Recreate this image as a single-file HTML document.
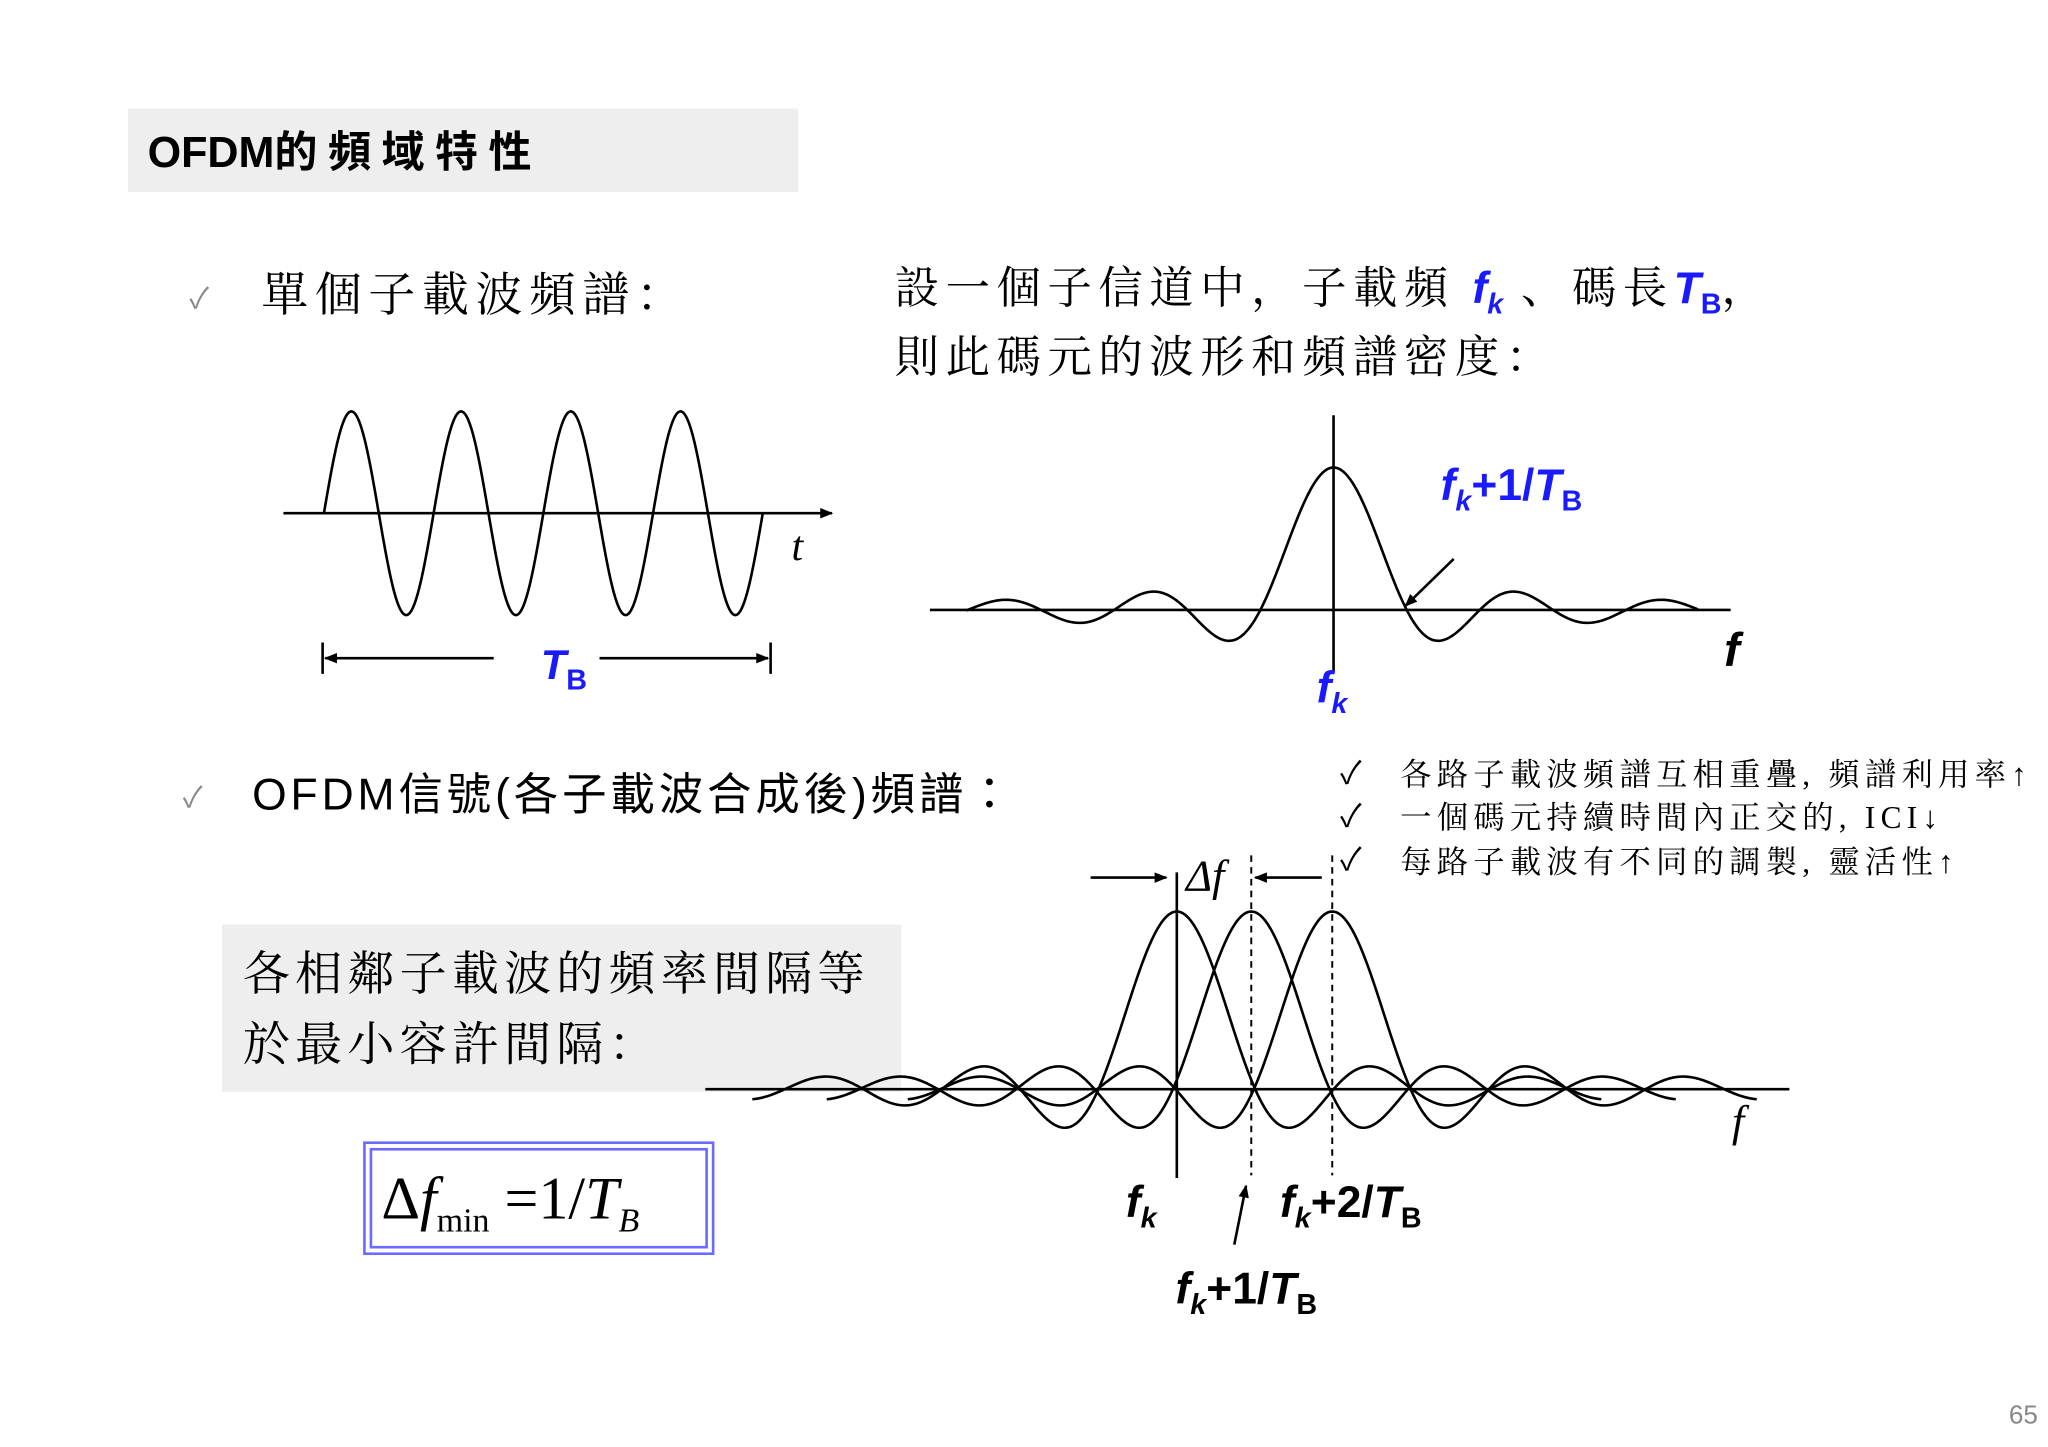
<!DOCTYPE html>
<html><head><meta charset="utf-8">
<style>
html,body{margin:0;padding:0;background:#fff;}
svg{display:block;}
.cj{font-family:"Liberation Serif","Noto Serif CJK SC","Noto Sans CJK TC",serif;}
.sa{font-family:"Liberation Sans","Noto Sans CJK TC",sans-serif;}
.bl{fill:#1a1aff;font-weight:bold;font-style:italic;font-family:"Liberation Sans",sans-serif;letter-spacing:0;}
</style></head>
<body>
<svg id="s" width="2048" height="1447" viewBox="0 0 1568 1108" preserveAspectRatio="none" xmlns="http://www.w3.org/2000/svg">
<defs>
<marker id="ar" markerWidth="10" markerHeight="8" refX="9" refY="4" orient="auto" markerUnits="userSpaceOnUse"><path d="M0,0 L10,4 L0,8 z" fill="#000"/></marker>
</defs>
<rect x="98" y="83" width="513" height="64" fill="#eeeeee"/>
<text x="113" y="128" class="sa" font-size="33" font-weight="bold">OFDM<tspan letter-spacing="8">的頻域特性</tspan></text>

<text x="145" y="236" font-size="22" fill="#888" class="sa">✓</text>
<text x="200" y="238" class="cj" font-size="36" letter-spacing="5">單個子載波頻譜：</text>

<text x="685" y="232" class="cj" font-size="34" letter-spacing="5">設一個子信道中，子載頻 <tspan class="bl">f<tspan font-size="22" dy="8">k</tspan></tspan><tspan dy="-8"> 、碼長</tspan><tspan class="bl">T<tspan font-size="22" dy="8" font-style="normal">B</tspan></tspan><tspan dy="-8">，</tspan></text>
<text x="685" y="285" class="cj" font-size="34" letter-spacing="5">則此碼元的波形和頻譜密度：</text>

<line x1="217" y1="393" x2="637" y2="393" stroke="#000" stroke-width="2" marker-end="url(#ar)"/>
<path id="sine" fill="none" stroke="#000" stroke-width="2"/>
<text x="606" y="429" font-size="32" font-style="italic" font-family="Liberation Serif,serif">t</text>
<line x1="247" y1="492" x2="247" y2="516" stroke="#000" stroke-width="2"/>
<line x1="590" y1="492" x2="590" y2="516" stroke="#000" stroke-width="2"/>
<line x1="378" y1="504" x2="249" y2="504" stroke="#000" stroke-width="2" marker-end="url(#ar)"/>
<line x1="459" y1="504" x2="588" y2="504" stroke="#000" stroke-width="2" marker-end="url(#ar)"/>
<text x="414" y="520" class="bl" font-size="32">T<tspan font-size="22" dy="8" font-style="normal">B</tspan></text>

<line x1="712" y1="467" x2="1325" y2="467" stroke="#000" stroke-width="2"/>
<line x1="1021" y1="318" x2="1021" y2="515" stroke="#000" stroke-width="2"/>
<path id="sinc1" fill="none" stroke="#000" stroke-width="2"/>
<text x="1103" y="383" class="bl" font-size="34">f<tspan font-size="22" dy="8">k</tspan><tspan dy="-8" font-style="normal">+1/</tspan>T<tspan font-size="22" dy="8" font-style="normal">B</tspan></text>
<line x1="1113" y1="428" x2="1076" y2="464" stroke="#000" stroke-width="2" marker-end="url(#ar)"/>
<text x="1320" y="510" font-size="36" font-weight="bold" font-style="italic" font-family="Liberation Sans,sans-serif">f</text>
<text x="1008" y="538" class="bl" font-size="34">f<tspan font-size="22" dy="8">k</tspan></text>

<text x="140" y="618" font-size="22" fill="#888" class="sa">✓</text>
<text x="193" y="620" class="sa" font-size="34" letter-spacing="3">OFDM信號(各子載波合成後)頻譜：</text>

<text x="1026" y="600" font-size="24" class="sa">✓</text>
<text x="1072" y="601" class="cj" font-size="24" letter-spacing="4">各路子載波頻譜互相重疊, 頻譜利用率↑</text>
<text x="1026" y="633" font-size="24" class="sa">✓</text>
<text x="1072" y="634" class="cj" font-size="24" letter-spacing="4">一個碼元持續時間內正交的, ICI↓</text>
<text x="1026" y="666" font-size="24" class="sa">✓</text>
<text x="1072" y="668" class="cj" font-size="24" letter-spacing="4">每路子載波有不同的調製, 靈活性↑</text>

<rect x="170" y="708" width="520" height="128" fill="#eeeeee"/>
<text x="186" y="758" class="cj" font-size="36" letter-spacing="4">各相鄰子載波的頻率間隔等</text>
<text x="186" y="812" class="cj" font-size="36" letter-spacing="4">於最小容許間隔：</text>

<rect x="279" y="875" width="267" height="85" fill="none" stroke="#6b6bff" stroke-width="2"/>
<rect x="284" y="880" width="257" height="75" fill="none" stroke="#6b6bff" stroke-width="2"/>
<text x="292" y="933" font-family="Liberation Serif,serif" font-size="46">Δ<tspan font-style="italic">f</tspan><tspan font-size="26" dy="10">min</tspan><tspan dy="-10"> =1/</tspan><tspan font-style="italic">T</tspan><tspan font-size="26" font-style="italic" dy="10">B</tspan></text>

<line x1="540" y1="834" x2="1370" y2="834" stroke="#000" stroke-width="2"/>
<path id="sa" fill="none" stroke="#000" stroke-width="2"/>
<path id="sb" fill="none" stroke="#000" stroke-width="2"/>
<path id="sc" fill="none" stroke="#000" stroke-width="2"/>
<line x1="901" y1="668" x2="901" y2="902" stroke="#000" stroke-width="2"/>
<line x1="958" y1="655" x2="958" y2="900" stroke="#000" stroke-width="1.5" stroke-dasharray="5,4"/>
<line x1="1020" y1="655" x2="1020" y2="900" stroke="#000" stroke-width="1.5" stroke-dasharray="5,4"/>
<line x1="835" y1="672" x2="893" y2="672" stroke="#000" stroke-width="2" marker-end="url(#ar)"/>
<line x1="1012" y1="672" x2="961" y2="672" stroke="#000" stroke-width="2" marker-end="url(#ar)"/>
<text x="908" y="682" font-size="34" font-style="italic" font-family="Liberation Serif,serif">Δf</text>
<text x="1326" y="870" font-size="34" font-style="italic" font-family="Liberation Serif,serif">f</text>
<text x="862" y="932" font-size="34" font-weight="bold" font-style="italic" font-family="Liberation Sans,sans-serif">f<tspan font-size="22" dy="8">k</tspan></text>
<text x="980" y="932" font-size="34" font-weight="bold" font-family="Liberation Sans,sans-serif"><tspan font-style="italic">f</tspan><tspan font-size="22" dy="8" font-style="italic">k</tspan><tspan dy="-8">+2/</tspan><tspan font-style="italic">T</tspan><tspan font-size="22" dy="8">B</tspan></text>
<line x1="945" y1="953" x2="954" y2="908" stroke="#000" stroke-width="2" marker-end="url(#ar)"/>
<text x="900" y="998" font-size="34" font-weight="bold" font-family="Liberation Sans,sans-serif"><tspan font-style="italic">f</tspan><tspan font-size="22" dy="8" font-style="italic">k</tspan><tspan dy="-8">+1/</tspan><tspan font-style="italic">T</tspan><tspan font-size="22" dy="8">B</tspan></text>

<text x="1538" y="1090" font-size="20" fill="#888" class="sa">65</text>
</svg>
<script>
function sinc(u){return Math.abs(u)<1e-6?1:Math.sin(Math.PI*u)/(Math.PI*u);}
function path(x0,x1,f){var d="";for(var x=x0;x<=x1;x+=1){d+=(x==x0?"M":"L")+x+","+f(x).toFixed(2)+" ";}return d;}
document.getElementById("sine").setAttribute("d",path(248,584,function(x){return 393-78*Math.sin(2*Math.PI*(x-248)/84);}));
document.getElementById("sinc1").setAttribute("d",path(740,1300,function(x){return 467-109*sinc((x-1021)/56);}));
[["sa",901],["sb",958],["sc",1020]].forEach(function(p){
 document.getElementById(p[0]).setAttribute("d",path(p[1]-325,p[1]+325,function(x){return 834-136*sinc((x-p[1])/60);}));
});
</script>
</body></html>
